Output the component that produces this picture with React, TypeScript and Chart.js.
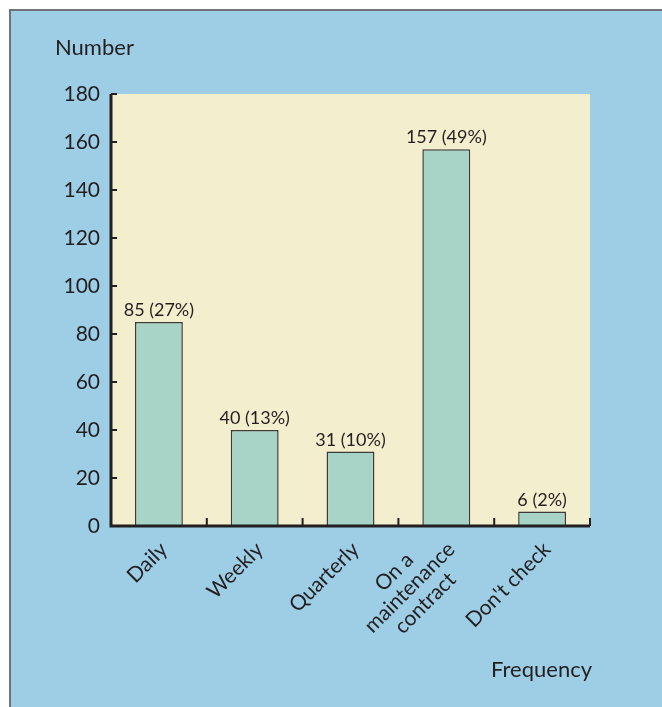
import React, { useEffect, useRef } from "react";
import { Chart, registerables } from "chart.js";

Chart.register(...registerables);

const categories: (string | string[])[] = [
  "Daily",
  "Weekly",
  "Quarterly",
  ["On a", "maintenance", "contract"],
  "Don't check",
];
const counts: number[] = [85, 40, 31, 157, 6];
const percents: string[] = ["27%", "13%", "10%", "49%", "2%"];
const yMin = 0;
const yMax = 180;
const yStep = 20;
const yTitle = "Number";
const xTitle = "Frequency";

const FONT = 'Lato, "Gill Sans", "Noto Sans", sans-serif';
const INK = "#231f20";
const PANEL_BLUE = "#9dcee6";
const PLOT_CREAM = "#f3eecd";
const BAR_FILL = "#a8d4c7";
const BAR_EDGE = "#3b3b3b";

const decorPlugin = {
  id: "decor",
  beforeDraw(chart: any) {
    const { ctx, width, height, chartArea } = chart;
    ctx.save();
    ctx.fillStyle = "#ffffff";
    ctx.fillRect(0, 0, width, height);
    ctx.fillStyle = PANEL_BLUE;
    ctx.fillRect(10, 10, width - 10, height - 10);
    ctx.strokeStyle = "#6e747a";
    ctx.lineWidth = 2;
    ctx.beginPath();
    ctx.moveTo(10, height);
    ctx.lineTo(10, 10);
    ctx.lineTo(width, 10);
    ctx.stroke();
    ctx.fillStyle = PLOT_CREAM;
    ctx.fillRect(
      chartArea.left,
      chartArea.top,
      chartArea.right - chartArea.left,
      chartArea.bottom - chartArea.top
    );
    ctx.restore();
  },
  afterDraw(chart: any) {
    const { ctx, chartArea } = chart;
    const xs = chart.scales.x;
    const ys = chart.scales.y;
    ctx.save();
    ctx.strokeStyle = INK;
    ctx.lineCap = "butt";
    // axis lines
    ctx.lineWidth = 3;
    ctx.beginPath();
    ctx.moveTo(chartArea.left, chartArea.top);
    ctx.lineTo(chartArea.left, chartArea.bottom);
    ctx.lineTo(chartArea.right, chartArea.bottom);
    ctx.stroke();
    // y ticks inward
    ctx.lineWidth = 2;
    ys.ticks.forEach((t: any) => {
      const y = ys.getPixelForValue(t.value);
      ctx.beginPath();
      ctx.moveTo(chartArea.left, y);
      ctx.lineTo(chartArea.left + 6, y);
      ctx.stroke();
    });
    // x ticks at category boundaries
    const half = (xs.getPixelForValue(1) - xs.getPixelForValue(0)) / 2;
    for (let i = 0; i < categories.length; i++) {
      const bx = xs.getPixelForValue(i) + half;
      ctx.beginPath();
      ctx.moveTo(bx, chartArea.bottom);
      ctx.lineTo(bx, chartArea.bottom - 8);
      ctx.stroke();
    }
    // value labels
    const meta = chart.getDatasetMeta(0);
    ctx.fillStyle = INK;
    ctx.font = `18px ${FONT}`;
    ctx.textAlign = "center";
    ctx.textBaseline = "alphabetic";
    meta.data.forEach((bar: any, i: number) => {
      ctx.fillText(`${counts[i]} (${percents[i]})`, bar.x, bar.y - 6);
    });
    // category labels, rotated
    ctx.font = `21px ${FONT}`;
    ctx.textBaseline = "middle";
    const lineH = 22;
    categories.forEach((lab, i) => {
      const lines = Array.isArray(lab) ? lab : [lab];
      const cx = xs.getPixelForValue(i);
      const maxW = Math.max(...lines.map((l) => ctx.measureText(l).width));
      ctx.save();
      ctx.translate(cx + 5, chartArea.bottom + 20);
      ctx.rotate(-Math.PI / 4);
      ctx.textAlign = "center";
      lines.forEach((l, j) => {
        const y = (j - (lines.length - 1) / 2) * lineH;
        ctx.fillText(l, -maxW / 2, y);
      });
      ctx.restore();
    });
    // axis titles
    ctx.font = `22px ${FONT}`;
    ctx.textBaseline = "alphabetic";
    ctx.textAlign = "left";
    ctx.fillText(yTitle, 55, 55);
    ctx.textAlign = "right";
    ctx.fillText(xTitle, 592, 677);
    ctx.restore();
  },
};

export default function App() {
  const ref = useRef<HTMLCanvasElement | null>(null);
  useEffect(() => {
    if (!ref.current) return;
    const chart = new Chart(ref.current, {
      type: "bar",
      data: {
        labels: categories as any,
        datasets: [
          {
            data: counts,
            backgroundColor: BAR_FILL,
            borderColor: BAR_EDGE,
            borderWidth: 1.5,
            borderSkipped: "bottom",
            barPercentage: 0.5,
            categoryPercentage: 1.0,
          },
        ],
      },
      options: {
        animation: false,
        responsive: false,
        devicePixelRatio: 1,
        layout: { padding: { top: 94, right: 72, left: 0, bottom: 0 } },
        plugins: {
          legend: { display: false },
          tooltip: { enabled: false },
        },
        scales: {
          x: {
            grid: { display: false, drawTicks: false },
            border: { display: false },
            ticks: { display: false },
            afterFit: (s: any) => {
              s.height = 181;
            },
          },
          y: {
            min: yMin,
            max: yMax,
            grid: { display: false, drawTicks: false },
            border: { display: false },
            ticks: {
              stepSize: yStep,
              padding: 11,
              color: INK,
              font: { family: FONT, size: 21 },
            },
            afterFit: (s: any) => {
              s.width = 111;
            },
          },
        },
      },
      plugins: [decorPlugin],
    });
    return () => chart.destroy();
  }, []);
  return (
    <div style={{ position: "absolute", left: 0, top: 0, width: 662, height: 707 }}>
      <canvas ref={ref} width={662} height={707} style={{ width: 662, height: 707, display: "block" }} />
    </div>
  );
}
